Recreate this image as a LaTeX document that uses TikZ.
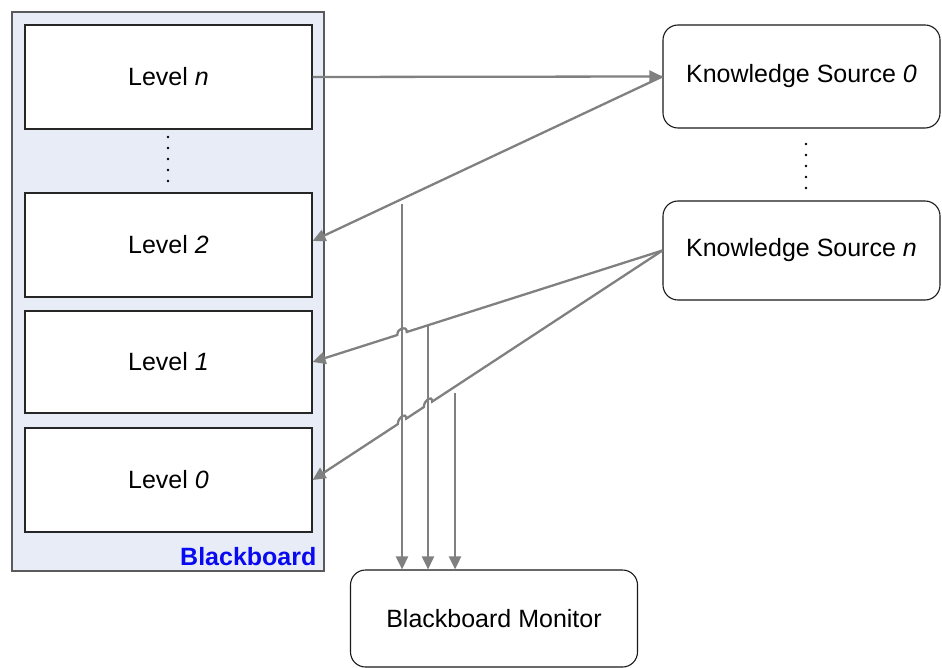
\documentclass[tikz,border=0pt]{standalone}
\usepackage{fontspec}
\setmainfont{Liberation Sans}
\usetikzlibrary{arrows.meta,calc}

\definecolor{boardfill}{HTML}{E7ECF7}
\definecolor{boardline}{HTML}{5A5A5A}
\definecolor{flowgray}{HTML}{808080}
\definecolor{labelblue}{HTML}{0A0AF0}

\begin{document}
\begin{tikzpicture}[x=1pt,y=-1pt,
  txt/.style={font=\fontsize{25}{29}\selectfont},
  board/.style={draw=boardline,fill=boardfill,line width=1.2pt,inner sep=0pt},
  levelbox/.style={txt,draw=black!85,fill=white,line width=1.2pt,
    minimum width=287pt,inner sep=0pt},
  source/.style={txt,draw=black!90,fill=white,line width=1.1pt,
    rounded corners=15pt,inner sep=0pt},
  flow/.style={draw=flowgray,line width=2.3pt,
    -{Triangle[length=13pt,width=12pt,fill=flowgray]}},
  dot/.style={fill=black}]
\useasboundingbox (0,0) rectangle (942,668);

% blackboard container with its levels
\node[board,minimum width=312pt,minimum height=559pt] (bb) at (168,291.5) {};
\node[levelbox,minimum height=104pt] (Ln) at (168.5,77)  {Level \textit{n}};
\node[levelbox,minimum height=104pt] (L2) at (168.5,245) {Level \textit{2}};
\node[levelbox,minimum height=102pt] (L1) at (168.5,362) {Level \textit{1}};
\node[levelbox,minimum height=104pt] (L0) at (168.5,480) {Level \textit{0}};
\node[anchor=base east,font=\bfseries\fontsize{25}{29}\selectfont,
      text=labelblue,inner sep=0pt] (bblabel)
      at ($(bb.south east)+(-8,-6)$) {Blackboard};

% elided levels
\foreach \yy in {137,148,159,170,181}
  \fill[dot] (168,\yy) circle[radius=1.4pt];

% knowledge sources
\node[source,minimum width=277pt,minimum height=103pt] (K0) at (801.5,76.5)
  {Knowledge Source \textit{0}};
\node[source,minimum width=277pt,minimum height=99pt] (Kn) at (801.5,250.5)
  {Knowledge Source \textit{n}};
\foreach \yy in {144,155,166,177,188}
  \fill[dot] (806,\yy) circle[radius=1.4pt];

% monitor
\node[source,minimum width=287pt,minimum height=97pt] (Mon) at (494,618.5)
  {Blackboard Monitor};

% anchor points of the connectors
\coordinate (L2in) at ([yshift=4pt]L2.east);
\coordinate (m1) at (intersection of K0.west--L2in and 402,0--402,668);
\coordinate (m2) at (intersection of Kn.west--L1.east and 428,0--428,668);
\coordinate (m3) at (intersection of Kn.west--L0.east and 455,0--455,668);
\coordinate (c1) at (intersection of Kn.west--L1.east and 402,0--402,668);
\coordinate (c2) at (intersection of Kn.west--L0.east and 428,0--428,668);
\coordinate (c3) at (intersection of Kn.west--L0.east and 402,0--402,668);

% level n feeds source 0, sources write back to levels
\draw[flow] (Ln.east) -- (K0.west);
\draw[flow] (K0.west) -- (L2in);
\draw[flow] (Kn.west)
  -- ($(c1)!5pt!(Kn.west)$) .. controls +(0,-7) and +(0,-7) .. ($(c1)!5pt!(L1.east)$)
  -- (L1.east);
\draw[flow] (Kn.west)
  -- ($(c2)!5pt!(Kn.west)$) .. controls +(0,-7) and +(0,-7) .. ($(c2)!5pt!(L0.east)$)
  -- ($(c3)!5pt!(Kn.west)$) .. controls +(0,-7) and +(0,-7) .. ($(c3)!5pt!(L0.east)$)
  -- (L0.east);

% monitor taps
\draw[flow] ([yshift=-5pt]m1) -- (m1 |- Mon.north);
\draw[flow] (m2) -- (m2 |- Mon.north);
\draw[flow] ([yshift=-6pt]m3) -- (m3 |- Mon.north);
\end{tikzpicture}
\end{document}
